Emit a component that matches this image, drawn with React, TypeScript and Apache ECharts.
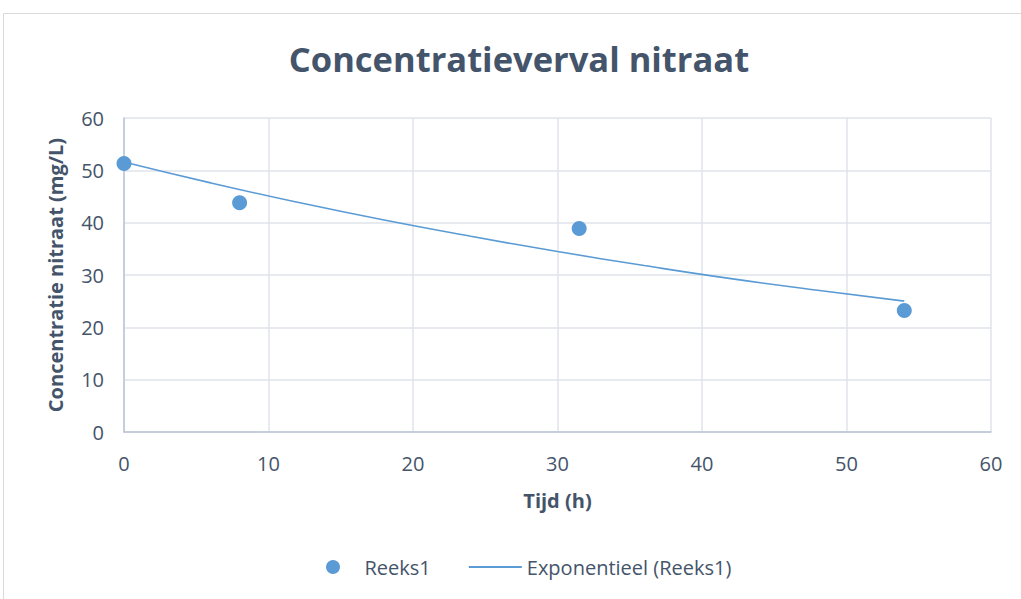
import React, { useEffect, useRef } from "react";
import * as echarts from "echarts";

const titleText = "Concentratieverval nitraat";
const xAxisName = "Tijd (h)";
const yAxisName = "Concentratie nitraat (mg/L)";
const seriesName = "Reeks1";
const trendName = "Exponentieel (Reeks1)";

const timeValues = [0, 8, 31.5, 54];
const concValues = [51.3, 43.8, 38.9, 23.2];

const trendTimes = [0, 6, 12, 18, 24, 30, 36, 42, 48, 54];
const trendValues = [51.6, 47.6, 43.9, 40.5, 37.4, 34.5, 31.8, 29.3, 27.1, 25.0];

const axisMin = 0;
const axisMax = 60;
const axisStep = 10;

const textColor = "#44546a";
const blue = "#5b9bd5";
const font = "'Open Sans', sans-serif";

export default function App() {
  const ref = useRef<HTMLDivElement>(null);
  useEffect(() => {
    if (!ref.current) return;
    const chart = echarts.init(ref.current, undefined, { renderer: "svg" });
    chart.setOption({
      animation: false,
      backgroundColor: "#ffffff",
      textStyle: { fontFamily: font },
      title: {
        text: titleText,
        left: 514,
        top: 36,
        textAlign: "center",
        textStyle: { fontFamily: font, fontSize: 34.5, fontWeight: "bold", color: textColor },
      },
      graphic: [
        {
          type: "rect",
          shape: { x: 3.5, y: 13.5, width: 1100, height: 700 },
          style: { fill: "none", stroke: "#d9d9d9", lineWidth: 1 },
          silent: true,
        },
      ],
      legend: {
        left: 326,
        top: 557,
        padding: 0,
        itemWidth: 53,
        itemHeight: 14,
        itemGap: 37,
        textStyle: { fontFamily: font, fontSize: 20, color: textColor },
        data: [
          { name: seriesName, icon: "circle" },
          { name: trendName, itemStyle: { opacity: 0 } },
        ],
      },
      grid: { left: 124, right: 30, top: 118, bottom: 167, containLabel: false },
      xAxis: {
        type: "value",
        min: axisMin,
        max: axisMax,
        interval: axisStep,
        name: xAxisName,
        nameLocation: "middle",
        nameGap: 58,
        nameTextStyle: { fontFamily: font, fontSize: 20, fontWeight: "bold", color: textColor },
        axisLine: { show: true, lineStyle: { color: "#b8c4d6", width: 1.5 } },
        axisTick: { show: false },
        axisLabel: { margin: 21, fontFamily: font, fontSize: 20, color: textColor },
        splitLine: { show: true, lineStyle: { color: "#dfe3ea", width: 1.5 } },
      },
      yAxis: {
        type: "value",
        min: axisMin,
        max: axisMax,
        interval: axisStep,
        name: yAxisName,
        nameLocation: "middle",
        nameGap: 59,
        nameTextStyle: { fontFamily: font, fontSize: 20, fontWeight: "bold", color: textColor },
        axisLine: { show: true, lineStyle: { color: "#b8c4d6", width: 1.5 } },
        axisTick: { show: false },
        axisLabel: { margin: 20, fontFamily: font, fontSize: 20, color: textColor },
        splitLine: { show: true, lineStyle: { color: "#dfe3ea", width: 1.5 } },
      },
      series: [
        {
          name: trendName,
          type: "line",
          data: trendTimes.map((t, i) => [t, trendValues[i]]),
          symbol: "none",
          smooth: true,
          lineStyle: { color: blue, width: 1.6 },
          itemStyle: { color: blue },
          z: 2,
        },
        {
          name: seriesName,
          type: "scatter",
          data: timeValues.map((t, i) => [t, concValues[i]]),
          symbol: "circle",
          symbolSize: 15,
          itemStyle: { color: blue, opacity: 1 },
          z: 3,
        },
      ],
    });
    return () => chart.dispose();
  }, []);
  return (
    <div
      ref={ref}
      style={{ position: "fixed", left: 0, top: 0, width: 1021, height: 599 }}
    />
  );
}
